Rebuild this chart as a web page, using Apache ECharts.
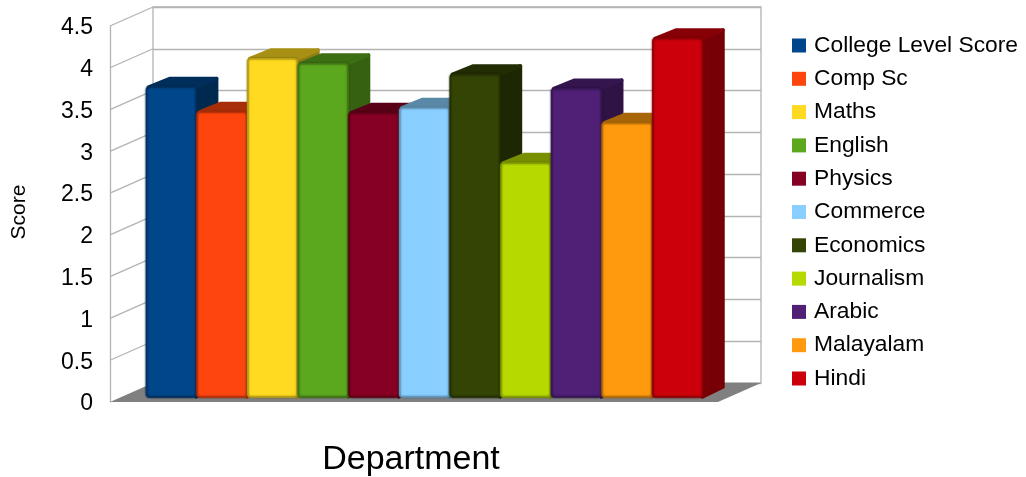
<!DOCTYPE html>
<html>
<head>
<meta charset="utf-8">
<style>html,body{margin:0;padding:0;background:#fff}#c{width:1026px;height:477px}</style>
<script src="https://cdn.jsdelivr.net/npm/echarts@6/dist/echarts.min.js"></script>
</head>
<body>
<div id="c"></div>
<script>
const departments = ["College Level Score","Comp Sc","Maths","English","Physics","Commerce","Economics","Journalism","Arabic","Malayalam","Hindi"];
const scores = [3.71,3.41,4.05,3.99,3.4,3.46,3.86,2.8,3.69,3.28,4.29];
const colors = ["#00468a","#ff450e","#ffda20","#5ba71e","#850022","#89cfff","#344405","#b6d900","#4f2076","#ff9a0e","#cc000b"];
const wallTicks = [0.5,1,1.5,2,2.5,3,3.5,4,4.5];
const FONT = '"Liberation Sans", Arial, sans-serif';
const GRID = '#b3b3b3';
const DEPTH = [43,-19];      // floor depth in px
const BAR_DEPTH = [22,-10];  // bar depth in px

function shade(hex, f){
  const n = parseInt(hex.slice(1),16);
  const c = [(n>>16)&255,(n>>8)&255,n&255].map(v=>Math.round(v*f));
  return 'rgb('+c.join(',')+')';
}
const yAxisBase = {type:'value',min:0,max:4.5,interval:0.5};

const chart = echarts.init(document.getElementById('c'),null,{renderer:'canvas'});

const barSeries = departments.map((name,i)=>({
  name, type:'custom', coordinateSystem:'cartesian2d', xAxisIndex:2, yAxisIndex:2,
  itemStyle:{color:colors[i]}, z:5, silent:true,
  data:[[name,scores[i]]],
  encode:{x:0,y:1},
  renderItem(params,api){
    const top = api.coord([api.value(0),api.value(1)]);
    const base = api.coord([api.value(0),0]);
    const w = api.size([1,0])[0];
    const x0 = top[0]-w/2+0.5, x1 = top[0]+w/2-0.5, yt = top[1], yb = base[1];
    const [dx,dy] = BAR_DEPTH;
    const c = colors[i];
    const side = shade(c,0.58), topC = shade(c,0.66);
    return {type:'group',children:[
      {type:'polygon',shape:{points:[[x1,yt],[x1+dx-1.5,yt+dy+1.5],[x1+dx-1.5,yb+dy],[x1,yb]]},
       style:{fill:side,stroke:side,lineWidth:3.5,lineJoin:'round'}},
      {type:'polygon',shape:{points:[[x0+2,yt],[x0+dx+1,yt+dy+1.5],[x1+dx-1.5,yt+dy+1.5],[x1,yt]]},
       style:{fill:topC,stroke:topC,lineWidth:3.5,lineJoin:'round'}},
      {type:'rect',shape:{x:x0,y:yt,width:x1-x0,height:yb-yt,r:3},
       style:{fill:c,stroke:shade(c,0.72),lineWidth:1.4,shadowBlur:2,shadowColor:shade(c,0.5)}}
    ]};
  }
}));

chart.setOption({
  animation:false,
  backgroundColor:'#fff',
  textStyle:{fontFamily:FONT},
  grid:[
    {left:110,top:26,width:608,height:376,outerBoundsMode:'none'},
    {left:153,top:7,width:608,height:376,outerBoundsMode:'none',show:true,borderColor:GRID,borderWidth:1.3,backgroundColor:'transparent'},
    {left:146,top:21,width:557,height:376,outerBoundsMode:'none'}
  ],
  xAxis:[
    {gridIndex:0,type:'value',min:0,max:1,show:true,
     axisLine:{show:false},axisTick:{show:false},axisLabel:{show:false},splitLine:{show:false},
     name:'Department',nameLocation:'middle',nameGap:41,
     nameTextStyle:{fontSize:34,color:'#000',fontFamily:FONT,padding:[0,6,0,0]}},
    {gridIndex:1,type:'value',min:0,max:1,show:false},
    {gridIndex:2,type:'category',data:departments,show:false}
  ],
  yAxis:[
    Object.assign({},yAxisBase,{gridIndex:0,
      axisLine:{show:true,lineStyle:{color:GRID,width:1.3}},axisTick:{show:false},splitLine:{show:false},
      axisLabel:{margin:17,formatter:'{a|{value}}',
        rich:{a:{fontSize:23,color:'#000',fontFamily:FONT,padding:[4,0,0,0]}}},
      name:'Score',nameLocation:'middle',nameGap:80,nameRotate:90,
      nameTextStyle:{fontSize:21,color:'#000',fontFamily:FONT,padding:[0,0,0,4]}}),
    Object.assign({},yAxisBase,{gridIndex:1,axisLine:{show:false},axisTick:{show:false},axisLabel:{show:false},
      splitLine:{show:true,lineStyle:{color:GRID,width:1.3}}}),
    Object.assign({},yAxisBase,{gridIndex:2,show:false})
  ],
  legend:{
    orient:'vertical',left:787,top:29,itemWidth:14,itemHeight:14,itemGap:10.3,icon:'rect',
    data:departments,selectedMode:false,
    textStyle:{fontSize:22.8,color:'#000',fontFamily:FONT,padding:[0,0,0,3]}
  },
  series:[
    {type:'custom',xAxisIndex:0,yAxisIndex:0,silent:true,z:2,data:[[0]],
     renderItem(params,api){
       const a=api.coord([0,0]),b=api.coord([1,0]);
       return {type:'polygon',shape:{points:[a,b,[b[0]+DEPTH[0],b[1]+DEPTH[1]],[a[0]+DEPTH[0],a[1]+DEPTH[1]]]},style:{fill:'#808080'}};
     }},
    {type:'custom',xAxisIndex:0,yAxisIndex:0,silent:true,z:2,data:wallTicks.map(v=>[0,v]),
     encode:{x:0,y:1},
     renderItem(params,api){
       const a=api.coord([0,api.value(1)]);
       return {type:'line',shape:{x1:a[0],y1:a[1],x2:a[0]+DEPTH[0],y2:a[1]+DEPTH[1]},style:{stroke:GRID,lineWidth:1.3}};
     }}
  ].concat(barSeries)
});
</script>
</body>
</html>
